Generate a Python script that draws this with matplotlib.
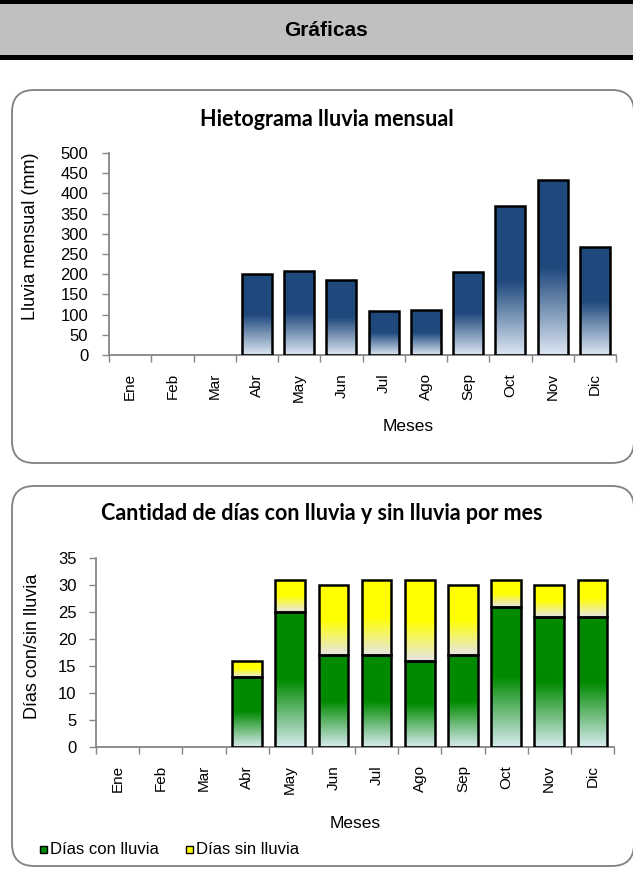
import numpy as np
import matplotlib
matplotlib.use("Agg")
import matplotlib.pyplot as plt
from matplotlib.patches import FancyBboxPatch, Rectangle
from matplotlib.colors import LinearSegmentedColormap

meses = ["Ene", "Feb", "Mar", "Abr", "May", "Jun", "Jul", "Ago", "Sep", "Oct", "Nov", "Dic"]
lluvia_mm = [0, 0, 0, 200, 209, 185, 110, 111, 206, 368, 433, 267]
dias_con = [0, 0, 0, 13, 25, 17, 17, 16, 17, 26, 24, 24]
dias_sin = [0, 0, 0, 3, 6, 13, 14, 15, 13, 5, 6, 7]

plt.rcParams['font.family'] = ['Liberation Sans', 'DejaVu Sans']

W, H = 633, 891
fig = plt.figure(figsize=(W / 100, H / 100), dpi=100)


def fx(px):
    return px / W


def fy(py):
    return 1 - py / H


# header band
fig.patches.append(Rectangle((0, fy(60)), 1, 60 / H, transform=fig.transFigure,
                             facecolor="black", edgecolor="none", zorder=-2))
fig.patches.append(Rectangle((0, fy(55)), 1, 51 / H, transform=fig.transFigure,
                             facecolor="#c0c0c0", edgecolor="none", zorder=-2))
fig.text(fx(326), fy(31), "Gráficas", ha="center", va="center", fontsize=15, fontweight="bold")

# rounded frames (behind the axes)
for top, bot in [(90, 463), (486, 866)]:
    box = FancyBboxPatch((fx(12), fy(bot)), fx(634) - fx(12), (bot - top) / H,
                         boxstyle="round,pad=0,rounding_size=0.035",
                         transform=fig.transFigure, facecolor="white",
                         edgecolor="#808080", linewidth=1.3, mutation_aspect=W / H,
                         zorder=-1)
    fig.patches.append(box)


def grad_cmap(dark, light):
    return LinearSegmentedColormap.from_list("g", [(0, light), (0.5, dark), (1, dark)])


def gradient_bars(ax, x, bottoms, heights, width, cmap):
    bars = ax.bar(x, heights, width, bottom=bottoms, facecolor="none",
                  edgecolor="black", linewidth=1.8, zorder=3)
    grad = np.linspace(0, 1, 256).reshape(-1, 1)
    for b in bars:
        if b.get_height() <= 0:
            b.set_visible(False)
            continue
        x0, y0 = b.get_x(), b.get_y()
        im = ax.imshow(grad, cmap=cmap, origin="lower", aspect="auto",
                       extent=(x0, x0 + b.get_width(), y0, y0 + b.get_height()),
                       zorder=2)
        im.set_clip_path(b)
    return bars


def style_axis(ax, ymax, step, ypad):
    ax.set_xlim(-0.5, 11.5)
    ax.set_ylim(0, ymax)
    ax.set_yticks(np.arange(0, ymax + 1, step))
    ax.set_xticks(np.arange(12))
    ax.set_xticklabels(meses, rotation=90, fontsize=11)
    ax.tick_params(axis="y", labelsize=12, length=5, color="#868686", width=1, pad=ypad)
    ax.set_xticks(np.arange(-0.5, 12, 1), minor=True)
    ax.tick_params(axis="x", which="major", length=0, pad=13)
    ax.tick_params(axis="x", which="minor", length=5, color="#868686", width=1)
    for s in ["top", "right"]:
        ax.spines[s].set_visible(False)
    for s in ["left", "bottom"]:
        ax.spines[s].set_color("#868686")
        ax.spines[s].set_linewidth(1.3)
    ax.patch.set_alpha(0)


x = np.arange(12)

# chart 1
ax1 = fig.add_axes([fx(109), fy(355), fx(616) - fx(109), (355 - 153) / H])
gradient_bars(ax1, x, np.zeros(12), lluvia_mm, 0.71, grad_cmap("#1f497d", "#dce6f2"))
style_axis(ax1, 500, 50, 10)
fig.text(fx(31), fy(236), "Lluvia mensual (mm)", rotation=90, ha="center", va="center",
         fontsize=13)
fig.text(fx(408), fy(427), "Meses", ha="center", va="center", fontsize=12.5)
fig.text(fx(327), fy(120), "Hietograma lluvia mensual", ha="center", va="center",
         fontsize=15.5, fontweight="bold", family=["Lato", "DejaVu Sans"])

# chart 2
ax2 = fig.add_axes([fx(96), fy(747), fx(614) - fx(96), (747 - 558) / H])
gradient_bars(ax2, x, np.zeros(12), dias_con, 0.69, grad_cmap("#008a00", "#d8ebf0"))
gradient_bars(ax2, x, dias_con, dias_sin, 0.69, grad_cmap("#ffff00", "#e6e6e6"))
style_axis(ax2, 35, 5, 9)
fig.text(fx(33), fy(646), "Días con/sin lluvia", rotation=90, ha="center", va="center",
         fontsize=13)
fig.text(fx(355), fy(823), "Meses", ha="center", va="center", fontsize=12.5)
fig.text(fx(322), fy(513), "Cantidad de días con lluvia y sin lluvia por mes", ha="center",
         va="center", fontsize=15.5, fontweight="bold", family=["Lato", "DejaVu Sans"])

# legend
for lx, col, txt in [(40, "#008a00", "Días con lluvia"), (186, "#ffff00", "Días sin lluvia")]:
    fig.patches.append(Rectangle((fx(lx), fy(853)), 7 / W, 7 / H, transform=fig.transFigure,
                                 facecolor=col, edgecolor="black", linewidth=1))
    fig.text(fx(lx + 10), fy(849), txt, ha="left", va="center", fontsize=12)

fig.savefig("out.png", dpi=100)
